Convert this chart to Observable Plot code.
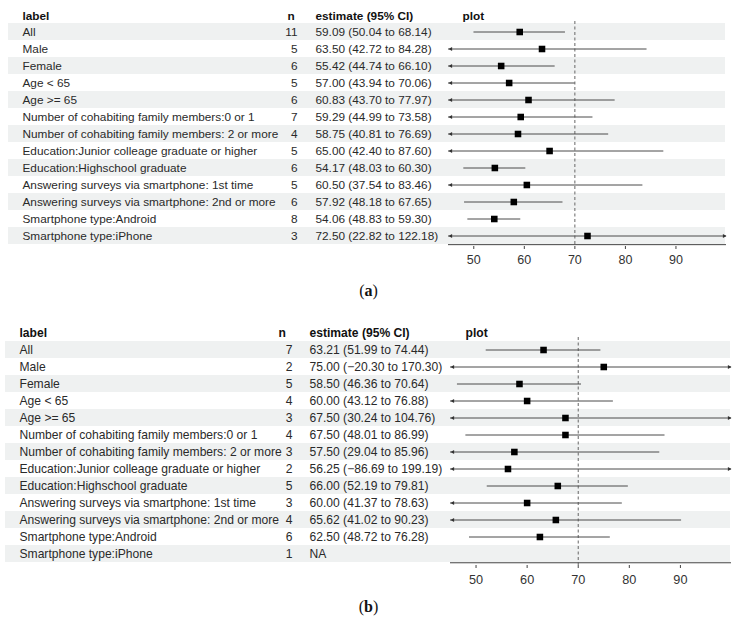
<!DOCTYPE html>
<html>
<head>
<meta charset="utf-8">
<script src="https://cdn.jsdelivr.net/npm/d3@7"></script>
<script src="https://cdn.jsdelivr.net/npm/@observablehq/plot@0.6"></script>
<style>
  body { margin: 0; background: #fff; width: 737px; }
  .caption {
    font-family: "Liberation Serif", "Times New Roman", serif;
    font-size: 16px;
    text-align: center;
    color: #111;
  }
  #capA { height: 44px; line-height: 38px; }
  #capB { height: 31px; line-height: 32px; }
  svg { display: block; }
</style>
</head>
<body>
<div id="panelA"></div>
<div id="capA" class="caption">(<b>a</b>)</div>
<div id="panelB"></div>
<div id="capB" class="caption">(<b>b</b>)</div>
<script>
// Subgroup labels (shared by both panels)
const labels = [
  "All",
  "Male",
  "Female",
  "Age < 65",
  "Age >= 65",
  "Number of cohabiting family members:0 or 1",
  "Number of cohabiting family members: 2 or more",
  "Education:Junior colleage graduate or higher",
  "Education:Highschool graduate",
  "Answering surveys via smartphone: 1st time",
  "Answering surveys via smartphone: 2nd or more",
  "Smartphone type:Android",
  "Smartphone type:iPhone"
];

// Panel (a)
const nA    = [11, 5, 6, 5, 6, 7, 4, 5, 6, 5, 6, 8, 3];
const estA  = [59.09, 63.50, 55.42, 57.00, 60.83, 59.29, 58.75, 65.00, 54.17, 60.50, 57.92, 54.06, 72.50];
const lowA  = [50.04, 42.72, 44.74, 43.94, 43.70, 44.99, 40.81, 42.40, 48.03, 37.54, 48.18, 48.83, 22.82];
const highA = [68.14, 84.28, 66.10, 70.06, 77.97, 73.58, 76.69, 87.60, 60.30, 83.46, 67.65, 59.30, 122.18];

// Panel (b)
const nB    = [7, 2, 5, 4, 3, 4, 3, 2, 5, 3, 4, 6, 1];
const estB  = [63.21, 75.00, 58.50, 60.00, 67.50, 67.50, 57.50, 56.25, 66.00, 60.00, 65.62, 62.50, null];
const lowB  = [51.99, -20.30, 46.36, 43.12, 30.24, 48.01, 29.04, -86.69, 52.19, 41.37, 41.02, 48.72, null];
const highB = [74.44, 170.30, 70.64, 76.88, 104.76, 86.99, 85.96, 199.19, 79.81, 78.63, 90.23, 76.28, null];

const headers = ["label", "n", "estimate (95% CI)", "plot"];
const xDomain = [45, 100];
const xTicks = [50, 60, 70, 80, 90];
const refValue = 70;

const fmt = v => (v < 0 ? "\u2212" : "") + Math.abs(v).toFixed(2);

function makeRows(n, est, low, high) {
  return labels.map((label, i) => ({
    i, label, n: n[i], est: est[i], low: low[i], high: high[i],
    text: est[i] == null ? "NA" : `${fmt(est[i])} (${fmt(low[i])} to ${fmt(high[i])})`
  }));
}

// small filled arrowhead with its tip at the origin, pointing left
const arrowHead = {
  draw(context) {
    context.moveTo(0, 0);
    context.lineTo(3.6, -1.9);
    context.lineTo(3.6, 1.9);
    context.closePath();
  }
};

function forest(rows, L) {
  const pxPerUnit = (L.width - L.marginLeft - L.marginRight) / (xDomain[1] - xDomain[0]);
  const pxToX = px => xDomain[0] + (px - L.marginLeft) / pxPerUnit;
  const stripeX1 = pxToX(L.stripeLeft);
  const stripeX2 = pxToX(L.stripeRight);
  const rowH = (L.height - L.marginTop - L.marginBottom) / rows.length;
  const ink = "#2a2a2a";
  const fs = L.fontSize;
  const fam = "Liberation Sans, Arial, Helvetica, sans-serif";
  const valid = rows.filter(d => d.est != null);
  const col = (px) => px - L.marginLeft;

  return Plot.plot({
    width: L.width,
    height: L.height,
    marginTop: L.marginTop,
    marginBottom: L.marginBottom,
    marginLeft: L.marginLeft,
    marginRight: L.marginRight,
    style: { fontFamily: fam, fontSize: fs + "px", color: ink, background: "#fff" },
    x: { domain: xDomain, axis: null },
    y: { domain: labels, padding: 0, axis: null },
    marks: [
      // zebra stripes across the whole table
      Plot.barX(rows.filter(d => d.i % 2 === 0), {
        y: "label", x1: () => stripeX1, x2: () => stripeX2, fill: "#eff1f1"
      }),
      // reference line
      Plot.ruleX([refValue], { stroke: "#666", strokeWidth: 1, strokeDasharray: "3,2.5" }),
      // confidence intervals, clipped to the axis range
      Plot.ruleY(valid, {
        y: "label",
        x1: d => Math.max(d.low, xDomain[0]),
        x2: d => Math.min(d.high, xDomain[1]),
        stroke: "#4a4a4a", strokeWidth: 1
      }),
      // arrowheads for intervals running past the axis
      Plot.dot(valid.filter(d => d.low < xDomain[0]), {
        y: "label", x: () => xDomain[0], symbol: arrowHead, fill: "#333", r: 2
      }),
      Plot.dot(valid.filter(d => d.high > xDomain[1]), {
        y: "label", x: () => xDomain[1], symbol: arrowHead, rotate: 180, fill: "#333", r: 2
      }),
      // point estimates
      Plot.dot(valid, { x: "est", y: "label", symbol: "square", r: 3.7, fill: "#000" }),
      // axis line and ticks
      Plot.ruleY([labels[labels.length - 1]], { dy: rowH / 2, stroke: "#444", strokeWidth: 1 }),
      Plot.axisX(xTicks, {
        anchor: "bottom", label: null, tickSize: 3, tickPadding: 6, stroke: "#444",
        fontSize: L.tickFontSize, fill: "#333", tickFormat: d => String(d)
      }),
      // table columns
      Plot.text(rows, {
        y: "label", text: "label", frameAnchor: "left", dx: col(L.labelX),
        textAnchor: "start", fill: ink, fontSize: fs
      }),
      Plot.text(rows, {
        y: "label", text: d => String(d.n), frameAnchor: "left", dx: col(L.nRight),
        textAnchor: "end", fill: ink, fontSize: fs
      }),
      Plot.text(rows, {
        y: "label", text: "text", frameAnchor: "left", dx: col(L.estX),
        textAnchor: "start", fill: ink, fontSize: fs
      }),
      // column headers
      ...headers.map((h, k) => Plot.text([h], {
        text: d => d, frameAnchor: "top-left", dx: col(L.headerX[k]), dy: L.headerDy,
        textAnchor: "start", fontWeight: "bold", fill: "#111", fontSize: fs
      }))
    ]
  });
}

const layoutA = {
  width: 737, height: 272, marginTop: 21, marginBottom: 26, marginLeft: 448, marginRight: 11,
  stripeLeft: 8, stripeRight: 725, fontSize: 11.8, tickFontSize: 12.5,
  labelX: 22, nRight: 297, estX: 315, headerX: [22, 287, 315, 462], headerDy: -10
};
const layoutB = {
  width: 737, height: 275, marginTop: 21, marginBottom: 26, marginLeft: 450, marginRight: 6,
  stripeLeft: 5, stripeRight: 730, fontSize: 12.1, tickFontSize: 12.7,
  labelX: 19, nRight: 292, estX: 309, headerX: [19, 278, 309, 465], headerDy: -9
};

document.getElementById("panelA").append(forest(makeRows(nA, estA, lowA, highA), layoutA));
document.getElementById("panelB").append(forest(makeRows(nB, estB, lowB, highB), layoutB));
</script>
</body>
</html>
